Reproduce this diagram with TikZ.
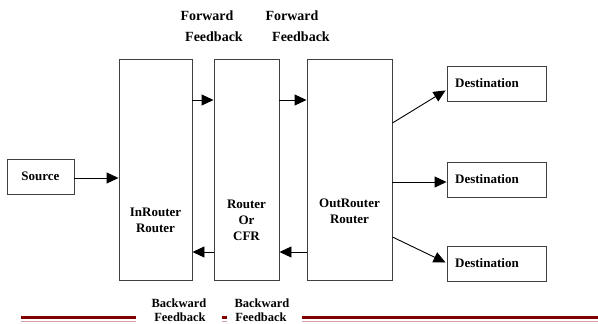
\documentclass[tikz,border=0pt]{standalone}
\usepackage{fontspec}
\setmainfont{Liberation Serif}
\usetikzlibrary{arrows.meta,calc}
\begin{document}
\begin{tikzpicture}[x=1pt,y=-1pt,
  box/.style={draw=black!75,line width=0.9pt,inner sep=0pt},
  lbl/.style={font=\fontsize{13}{16}\selectfont\bfseries,align=center,inner sep=0pt},
  toplbl/.style={font=\fontsize{14}{16}\selectfont\bfseries,inner sep=0pt},
  botlbl/.style={font=\fontsize{12.5}{14}\selectfont\bfseries,inner sep=0pt},
  arr/.style={line width=0.9pt,-{Triangle[length=12pt,width=11pt]}},
  dark/.style={draw={rgb,255:red,128;green,0;blue,0},line width=3pt},
  light/.style={draw={rgb,255:red,215;green,160;blue,160},line width=1.4pt}]
\useasboundingbox (0,0) rectangle (598,324);
% boxes
\node[box,minimum width=67pt,minimum height=35pt] (src) at (40.5,176.5) {};
\node[lbl] (srct) at (src.center) {Source};
\node[box,minimum width=73pt,minimum height=221pt] (in) at (155.5,169.5) {};
\node[box,minimum width=65pt,minimum height=221pt] (cfr) at (246.5,169.5) {};
\node[box,minimum width=85pt,minimum height=221pt] (out) at (349.5,169.5) {};
\node[lbl] (intxt) at (155.5,220) {InRouter\\Router};
\node[lbl] (cfrtxt) at (246.5,220) {Router\\Or\\CFR};
\node[lbl] (outtxt) at (349.5,211) {OutRouter\\Router};
\node[box,minimum width=99pt,minimum height=35pt] (d1) at (496.5,83.5) {};
\node[box,minimum width=99pt,minimum height=35pt] (d2) at (496.5,179.5) {};
\node[box,minimum width=99pt,minimum height=35pt] (d3) at (496.5,263.5) {};
\node[lbl,anchor=west] (d1t) at (455,83.5) {Destination};
\node[lbl,anchor=west] (d2t) at (455,179.5) {Destination};
\node[lbl,anchor=west] (d3t) at (455,263.5) {Destination};
% labels
\node[toplbl] (fw1) at (207,16) {Forward};
\node[toplbl] (fb1) at (214,37) {Feedback};
\node[toplbl] (fw2) at (292,16) {Forward};
\node[toplbl] (fb2) at (301,37) {Feedback};
\node[botlbl] (bw1) at (179,303) {Backward};
\node[botlbl] (bb1) at (180,317) {Feedback};
\node[botlbl] (bw2) at (262,303) {Backward};
\node[botlbl] (bb2) at (261,317) {Feedback};
% helper coordinates
\coordinate (ysrc) at (0,178);
\coordinate (yf) at (0,100);
\coordinate (yb) at (0,252);
\coordinate (y1) at (0,123);
\coordinate (y2) at (0,182);
\coordinate (y3) at (0,237);
% connectors
\draw[arr] (src.east |- ysrc) -- (in.west |- ysrc);
\draw[arr] (in.east |- yf) -- (cfr.west |- yf);
\draw[arr] (cfr.east |- yf) -- (out.west |- yf);
\draw[arr] (cfr.west |- yb) -- (in.east |- yb);
\draw[arr] (out.west |- yb) -- (cfr.east |- yb);
\draw[arr] (out.east |- y1) -- ($(d1.south west)+(-1,-11)$);
\draw[arr] (out.east |- y2) -- (d2.west |- y2);
\draw[arr] (out.east |- y3) -- ($(d3.west)+(-1,-1)$);
% decorative rules
\draw[light] (21,321.5) -- (136,321.5);
\draw[light] (222,321.5) -- (227,321.5);
\draw[light] (302,321.5) -- (598,321.5);
\draw[dark] (21,317.5) -- (136,317.5);
\draw[dark] (222,317.5) -- (227,317.5);
\draw[dark] (302,317.5) -- (598,317.5);
\end{tikzpicture}
\end{document}
